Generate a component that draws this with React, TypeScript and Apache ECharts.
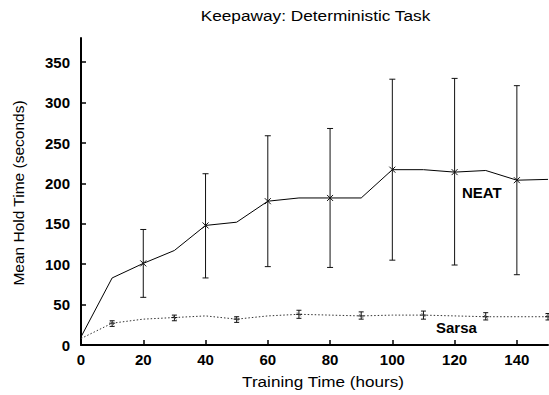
import React, { useEffect, useRef } from "react";
import * as echarts from "echarts";

const hours = [0, 10, 20, 30, 40, 50, 60, 70, 80, 90, 100, 110, 120, 130, 140, 150];
const neatMean = [10, 83, 101, 117, 148, 152, 178, 182, 182, 182, 217, 217, 214, 216, 204, 205];
const sarsaMean = [8, 27, 32, 34, 36, 32, 36, 38, 37, 36, 37, 37, 36, 35, 35, 35];

// error bars: [hour, low, high, mean]
const neatErrHours = [20, 40, 60, 80, 100, 120, 140];
const neatErrLow = [59, 83, 97, 96, 105, 99, 87];
const neatErrHigh = [143, 212, 259, 268, 329, 330, 321];
const neatErrMean = [101, 148, 178, 182, 217, 214, 204];

const sarsaErrHours = [10, 30, 50, 70, 90, 110, 130, 150];
const sarsaErrLow = [23, 30, 28, 33, 32, 32, 31, 31];
const sarsaErrHigh = [30, 37, 35, 43, 41, 42, 40, 39];
const sarsaErrMean = [27, 34, 32, 38, 36, 37, 35, 35];

const xTicks = [0, 20, 40, 60, 80, 100, 120, 140];
const yTicks = [0, 50, 100, 150, 200, 250, 300, 350];

const FONT = "'Liberation Sans', Arial, Helvetica, sans-serif";

function errRender(cap: number, marker: "x" | "+") {
  return (params: any, api: any) => {
    const x = api.value(0);
    const lo = api.coord([x, api.value(1)]);
    const hi = api.coord([x, api.value(2)]);
    const mid = api.coord([x, api.value(3)]);
    const st = { stroke: "#111", lineWidth: 1 };
    const children: any[] = [
      { type: "line", shape: { x1: lo[0], y1: lo[1], x2: hi[0], y2: hi[1] }, style: st },
      { type: "line", shape: { x1: lo[0] - cap, y1: lo[1], x2: lo[0] + cap, y2: lo[1] }, style: st },
      { type: "line", shape: { x1: hi[0] - cap, y1: hi[1], x2: hi[0] + cap, y2: hi[1] }, style: st },
    ];
    const m = 3;
    if (marker === "x") {
      children.push(
        { type: "line", shape: { x1: mid[0] - m, y1: mid[1] - m, x2: mid[0] + m, y2: mid[1] + m }, style: st },
        { type: "line", shape: { x1: mid[0] - m, y1: mid[1] + m, x2: mid[0] + m, y2: mid[1] - m }, style: st }
      );
    } else {
      children.push(
        { type: "line", shape: { x1: mid[0] - m, y1: mid[1], x2: mid[0] + m, y2: mid[1] }, style: st },
        { type: "line", shape: { x1: mid[0] - 2, y1: mid[1] - 2, x2: mid[0] + 2, y2: mid[1] + 2 }, style: { stroke: "#555", lineWidth: 0.8 } }
      );
    }
    return { type: "group", children };
  };
}

export default function App() {
  const ref = useRef<HTMLDivElement>(null);
  useEffect(() => {
    const chart = echarts.init(ref.current!, null, { renderer: "svg" });
    chart.setOption({
      animation: false,
      backgroundColor: "#fff",
      grid: { left: 81, right: 1, top: 38, bottom: 50 },
      xAxis: {
        type: "value",
        min: 0,
        max: 150,
        interval: 10,
        axisLine: { lineStyle: { color: "#000", width: 2 } },
        axisTick: { inside: true, length: 5, customValues: xTicks, lineStyle: { color: "#000", width: 1.5 } },
        axisLabel: { customValues: xTicks, margin: 7, fontFamily: FONT, fontSize: 15, fontWeight: "bold", color: "#000" },
        splitLine: { show: false },
      },
      yAxis: {
        type: "value",
        min: 0,
        max: 380,
        interval: 50,
        axisLine: { show: true, lineStyle: { color: "#000", width: 2 } },
        axisTick: { show: true, inside: true, length: 5, customValues: yTicks, lineStyle: { color: "#000", width: 1.5 } },
        axisLabel: { customValues: yTicks, margin: 11, fontFamily: FONT, fontSize: 15, fontWeight: "bold", color: "#000" },
        splitLine: { show: false },
      },
      series: [
        {
          name: "NEAT",
          type: "line",
          data: hours.map((h, i) => [h, neatMean[i]]),
          showSymbol: false,
          lineStyle: { color: "#000", width: 1 },
        },
        {
          name: "Sarsa",
          type: "line",
          data: hours.map((h, i) => [h, sarsaMean[i]]),
          showSymbol: false,
          lineStyle: { color: "#333", width: 1, type: [1.5, 2] },
        },
        {
          type: "custom",
          renderItem: errRender(3, "x"),
          data: neatErrHours.map((h, i) => [h, neatErrLow[i], neatErrHigh[i], neatErrMean[i]]),
          encode: { x: 0, y: [1, 2] },
          z: 5,
        },
        {
          type: "custom",
          renderItem: errRender(2.5, "+"),
          data: sarsaErrHours.map((h, i) => [h, sarsaErrLow[i], sarsaErrHigh[i], sarsaErrMean[i]]),
          encode: { x: 0, y: [1, 2] },
          z: 5,
        },
      ],
      graphic: [
        {
          type: "text", x: 315.5, y: 15, scaleX: 1.15,
          style: { text: "Keepaway: Deterministic Task", fontFamily: FONT, fontSize: 15, fill: "#000", align: "center", verticalAlign: "middle" },
        },
        {
          type: "text", x: 323, y: 382, scaleX: 1.18,
          style: { text: "Training Time (hours)", fontFamily: FONT, fontSize: 14.5, fill: "#000", align: "center", verticalAlign: "middle" },
        },
        {
          type: "text", x: 18, y: 193, rotation: Math.PI / 2,
          style: { text: "Mean Hold Time (seconds)", fontFamily: FONT, fontSize: 15.5, fill: "#000", align: "center", verticalAlign: "middle" },
        },
        { type: "text", x: 462, y: 192, style: { text: "NEAT", fontFamily: FONT, fontSize: 15, fontWeight: "bold", fill: "#000", verticalAlign: "middle" } },
        { type: "text", x: 436, y: 327, style: { text: "Sarsa", fontFamily: FONT, fontSize: 15, fontWeight: "bold", fill: "#000", verticalAlign: "middle" } },
      ],
    });
    return () => chart.dispose();
  }, []);
  return <div ref={ref} style={{ width: 549, height: 395, position: "absolute", left: 0, top: 0 }} />;
}
